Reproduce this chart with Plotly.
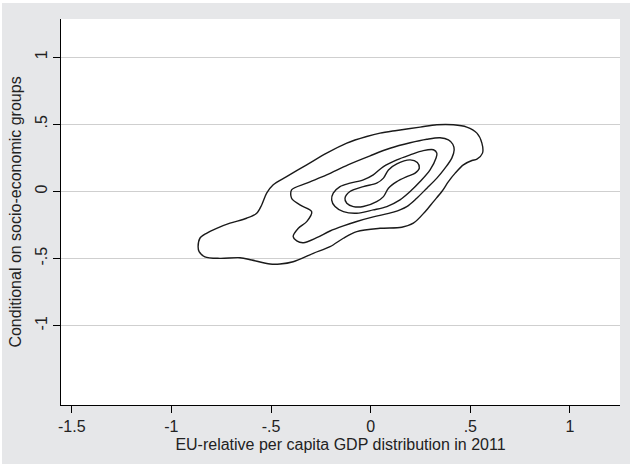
import plotly.graph_objects as go

# Bivariate density contours: EU-relative per capita GDP (2011) vs.
# the same measure conditional on socio-economic groups.
# Each level is stored as a closed outline (x, y) in data units.

outer_x = [-0.866, -0.857, -0.824, -0.773, -0.706, -0.623, -0.572, -0.547, -0.522, -0.489,
           -0.422, -0.321, -0.221, -0.120, -0.020, 0.047, 0.131, 0.248, 0.332, 0.415,
           0.482, 0.533, 0.558, 0.561, 0.533, 0.508, 0.465, 0.424, 0.390, 0.357,
           0.315, 0.273, 0.214, 0.156, 0.047, -0.070, -0.137, -0.204, -0.288, -0.389,
           -0.455, -0.505, -0.597, -0.656, -0.757, -0.832, -0.861]
outer_y = [-0.412, -0.349, -0.312, -0.275, -0.237, -0.200, -0.163, -0.101, -0.013, 0.049,
           0.110, 0.198, 0.285, 0.360, 0.409, 0.434, 0.454, 0.479, 0.496, 0.496,
           0.479, 0.434, 0.360, 0.285, 0.240, 0.230, 0.198, 0.136, 0.073, -0.001,
           -0.076, -0.151, -0.237, -0.267, -0.275, -0.300, -0.349, -0.412, -0.461, -0.524,
           -0.541, -0.541, -0.511, -0.494, -0.499, -0.487, -0.449]

second_x = [-0.397, -0.321, -0.221, -0.114, -0.003, 0.097, 0.198, 0.282, 0.348, 0.390,
            0.412, 0.419, 0.407, 0.373, 0.332, 0.282, 0.231, 0.181, 0.114, 0.013,
            -0.070, -0.137, -0.204, -0.271, -0.338, -0.371, -0.389, -0.363, -0.321, -0.296,
            -0.355, -0.397]
second_y = [0.011, 0.061, 0.123, 0.198, 0.265, 0.321, 0.362, 0.388, 0.399, 0.384,
            0.351, 0.310, 0.248, 0.173, 0.099, 0.024, -0.051, -0.113, -0.155, -0.190,
            -0.224, -0.257, -0.295, -0.345, -0.382, -0.369, -0.337, -0.275, -0.225, -0.151,
            -0.101, -0.051]

third_x = [-0.196, -0.188, -0.154, -0.104, -0.037, 0.013, 0.064, 0.131, 0.198, 0.264,
           0.315, 0.332, 0.328, 0.298, 0.248, 0.198, 0.147, 0.081, 0.013, -0.070,
           -0.137, -0.179]
third_y = [-0.063, -0.013, 0.036, 0.061, 0.086, 0.123, 0.185, 0.235, 0.272, 0.304,
           0.310, 0.285, 0.248, 0.160, 0.073, -0.001, -0.063, -0.113, -0.138, -0.163,
           -0.151, -0.113]

inner_x = [-0.129, -0.104, -0.037, 0.030, 0.064, 0.089, 0.131, 0.198, 0.234, 0.244,
           0.223, 0.181, 0.131, 0.089, 0.064, 0.030, -0.037, -0.087, -0.120]
inner_y = [-0.051, -0.001, 0.036, 0.061, 0.099, 0.160, 0.205, 0.235, 0.215, 0.173,
           0.136, 0.110, 0.073, 0.024, -0.039, -0.076, -0.113, -0.113, -0.088]

levels = [(outer_x, outer_y), (second_x, second_y), (third_x, third_y), (inner_x, inner_y)]

x_ticks = [-1.5, -1, -0.5, 0, 0.5, 1]
x_labels = ["-1.5", "-1", "-.5", "0", ".5", "1"]
y_ticks = [-1, -0.5, 0, 0.5, 1]
y_labels = ["-1", "-.5", "0", ".5", "1"]

FONT = "Liberation Sans, Arial, Helvetica, sans-serif"
BG = "#e6e7e9"

fig = go.Figure()
for xs, ys in levels:
    fig.add_trace(go.Scatter(
        x=xs + xs[:1], y=ys + ys[:1], mode="lines",
        line=dict(color="#1a1a1a", width=1.4, shape="spline", smoothing=0.9),
        hoverinfo="skip", showlegend=False,
    ))

fig.update_layout(
    width=630, height=464,
    margin=dict(l=61, r=10, t=19, b=59),
    paper_bgcolor=BG, plot_bgcolor="white",
    font=dict(family=FONT, size=16, color="#222222"),
    showlegend=False,
    xaxis=dict(
        range=[-1.554, 1.251], tickvals=x_ticks, ticktext=x_labels,
        showgrid=False, zeroline=False,
        showline=True, linecolor="black", linewidth=1,
        ticks="outside", ticklen=7, tickcolor="black", tickwidth=1,
        title=dict(text="EU-relative per capita GDP distribution in 2011",
                   font=dict(size=16), standoff=4),
    ),
    yaxis=dict(
        range=[-1.591, 1.284], tickvals=y_ticks, ticktext=y_labels,
        tickangle=-90,
        showgrid=True, gridcolor="#cfcfcf", gridwidth=1.2, zeroline=False,
        showline=True, linecolor="black", linewidth=1,
        ticks="outside", ticklen=7, tickcolor="black", tickwidth=1,
        title=dict(text="Conditional on socio-economic groups",
                   font=dict(size=16), standoff=6),
    ),
    shapes=[
        # thin white frame along the top and left edges of the page
        dict(type="rect", xref="paper", yref="paper", x0=-0.2, x1=1.05,
             y0=1 + 16 / 386, y1=1.1, fillcolor="white", line_width=0, layer="above"),
        dict(type="rect", xref="paper", yref="paper", x0=-0.2, x1=-61 / 559 + 2 / 559,
             y0=-0.3, y1=1.1, fillcolor="white", line_width=0, layer="above"),
    ],
)

fig.write_html("out.html")
